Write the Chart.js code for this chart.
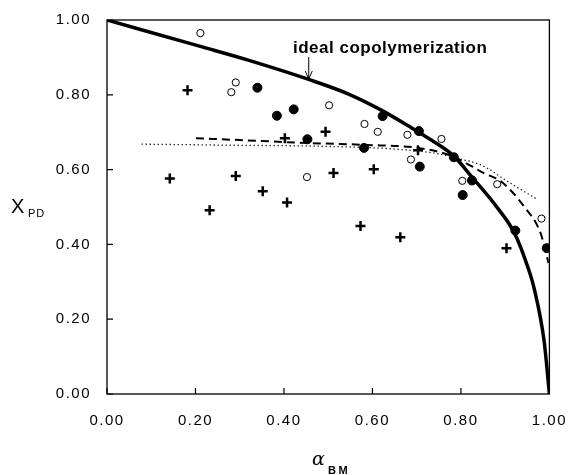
<!DOCTYPE html>
<html>
<head>
<meta charset="utf-8">
<script src="https://cdn.jsdelivr.net/npm/chart.js@4"></script>
<style>
  html, body { margin: 0; padding: 0; background: #fff; }
  #wrap { width: 574px; height: 475px; }
</style>
</head>
<body>
<div id="wrap"><canvas id="chart" width="574" height="475"></canvas></div>
<script>
// open circles
const openAlpha = [0.211, 0.291, 0.281, 0.502, 0.582, 0.612, 0.679, 0.756, 0.452, 0.687, 0.803, 0.882, 0.982];
const openXpd   = [0.965, 0.833, 0.807, 0.772, 0.722, 0.701, 0.693, 0.682, 0.580, 0.627, 0.570, 0.561, 0.469];
// filled circles
const fillAlpha = [0.340, 0.384, 0.422, 0.623, 0.453, 0.705, 0.581, 0.707, 0.784, 0.825, 0.804, 0.923, 0.994];
const fillXpd   = [0.819, 0.744, 0.761, 0.743, 0.681, 0.703, 0.658, 0.608, 0.633, 0.571, 0.532, 0.437, 0.390];
// crosses
const plusAlpha = [0.182, 0.142, 0.232, 0.291, 0.352, 0.407, 0.402, 0.494, 0.512, 0.603, 0.573, 0.663, 0.703, 0.903];
const plusXpd   = [0.812, 0.576, 0.491, 0.583, 0.542, 0.512, 0.684, 0.701, 0.591, 0.601, 0.449, 0.419, 0.652, 0.390];
// ideal copolymerization curve (solid)
const idealAlpha = [0.00, 0.209, 0.321, 0.456, 0.546, 0.62, 0.681, 0.733, 0.784, 0.825, 0.883, 0.922, 0.951, 0.966, 0.988, 1.00];
const idealXpd   = [1.000, 0.930, 0.892, 0.841, 0.802, 0.759, 0.717, 0.679, 0.636, 0.580, 0.497, 0.428, 0.340, 0.280, 0.142, 0.00];
// dashed curve
const dashAlpha = [0.201, 0.30, 0.434, 0.584, 0.703, 0.778, 0.853, 0.891, 0.943, 0.98, 0.998];
const dashXpd   = [0.684, 0.679, 0.672, 0.666, 0.658, 0.637, 0.590, 0.568, 0.501, 0.430, 0.350];
// dotted curve
const dotAlpha = [0.078, 0.30, 0.50, 0.65, 0.75, 0.784, 0.846, 0.906, 0.969];
const dotXpd   = [0.668, 0.665, 0.662, 0.655, 0.642, 0.632, 0.612, 0.568, 0.523];

const tickValues = [0, 0.2, 0.4, 0.6, 0.8, 1.0];
const annoText = 'ideal copolymerization';
const annoArrow = {x: 0.456, yFrom: 0.901, yTo: 0.842};

const pts = (xs, ys) => xs.map((x, i) => ({x, y: ys[i]}));
const SANS = '"Liberation Sans", Arial, sans-serif';

const frame = {
  id: 'frame',
  beforeDraw(chart) {
    chart.ctx.letterSpacing = '1.5px';
  },
  afterDraw(chart) {
    const {ctx, chartArea: a, scales: {x, y}} = chart;
    ctx.save();
    ctx.letterSpacing = '0px';
    ctx.strokeStyle = '#000';
    ctx.lineWidth = 1.3;
    ctx.strokeRect(a.left, a.top, a.right - a.left, a.bottom - a.top);
    // inward ticks
    ctx.lineWidth = 1.2;
    ctx.beginPath();
    tickValues.forEach(v => {
      const px = x.getPixelForValue(v);
      ctx.moveTo(px, a.bottom); ctx.lineTo(px, a.bottom - 6);
      const py = y.getPixelForValue(v);
      ctx.moveTo(a.left, py); ctx.lineTo(a.left + 6, py);
    });
    ctx.stroke();
    // annotation
    ctx.fillStyle = '#000';
    ctx.font = 'bold 17px ' + SANS;
    ctx.letterSpacing = '0.5px';
    ctx.textBaseline = 'alphabetic';
    ctx.textAlign = 'left';
    ctx.fillText(annoText, 293, 53);
    const ax = x.getPixelForValue(annoArrow.x);
    const ay0 = y.getPixelForValue(annoArrow.yFrom);
    const ay1 = y.getPixelForValue(annoArrow.yTo);
    ctx.lineWidth = 1;
    ctx.beginPath();
    ctx.moveTo(ax, ay0); ctx.lineTo(ax, ay1);
    ctx.moveTo(ax - 3.5, ay1 - 8); ctx.lineTo(ax, ay1); ctx.lineTo(ax + 3.5, ay1 - 8);
    ctx.stroke();
    // axis titles
    ctx.letterSpacing = '0px';
    ctx.font = '20px ' + SANS;
    ctx.fillText('X', 11, 213);
    ctx.font = '11px ' + SANS;
    ctx.letterSpacing = '1px';
    ctx.fillText('PD', 28, 217);
    ctx.letterSpacing = '0px';
    ctx.font = 'italic 19px "DejaVu Serif", serif';
    ctx.fillText('\u03b1', 312, 465);
    ctx.font = 'bold 11px ' + SANS;
    ctx.letterSpacing = '2.5px';
    ctx.fillText('BM', 328, 474);
    ctx.restore();
  }
};

new Chart(document.getElementById('chart').getContext('2d'), {
  type: 'scatter',
  data: {
    datasets: [
      { data: pts(idealAlpha, idealXpd), showLine: true, borderColor: '#000', borderWidth: 3.5,
        pointRadius: 0, cubicInterpolationMode: 'monotone' },
      { data: pts(dashAlpha, dashXpd), showLine: true, borderColor: '#000', borderWidth: 2,
        borderDash: [8, 5], pointRadius: 0, cubicInterpolationMode: 'monotone' },
      { data: pts(dotAlpha, dotXpd), showLine: true, borderColor: '#222', borderWidth: 1.3,
        borderDash: [1.4, 2.6], pointRadius: 0, cubicInterpolationMode: 'monotone' },
      { data: pts(openAlpha, openXpd), pointStyle: 'circle', pointRadius: 3.6,
        borderColor: '#000', borderWidth: 1, backgroundColor: '#fff' },
      { data: pts(fillAlpha, fillXpd), pointStyle: 'circle', pointRadius: 4.5,
        borderColor: '#000', borderWidth: 1, backgroundColor: '#000' },
      { data: pts(plusAlpha, plusXpd), pointStyle: 'cross', pointRadius: 5,
        borderColor: '#000', borderWidth: 2.5 }
    ]
  },
  options: {
    responsive: false,
    animation: false,
    layout: { padding: { top: 20, right: 22, left: 0, bottom: 0 } },
    plugins: { legend: { display: false }, tooltip: { enabled: false } },
    scales: {
      x: {
        type: 'linear', min: 0, max: 1,
        afterBuildTicks: s => { s.ticks = tickValues.map(v => ({value: v})); },
        afterFit: s => { s.height = 475 - 394; },
        grid: { display: false },
        border: { display: false },
        ticks: { color: '#000', padding: 10, font: { size: 15, family: SANS },
                 callback: v => v.toFixed(2), maxRotation: 0 }
      },
      y: {
        type: 'linear', min: 0, max: 1,
        afterBuildTicks: s => { s.ticks = tickValues.map(v => ({value: v})); },
        afterFit: s => { s.width = 107; },
        grid: { display: false },
        border: { display: false },
        ticks: { color: '#000', padding: 8, font: { size: 15, family: SANS },
                 callback: v => v.toFixed(2) }
      }
    }
  },
  plugins: [frame]
});
</script>
</body>
</html>
